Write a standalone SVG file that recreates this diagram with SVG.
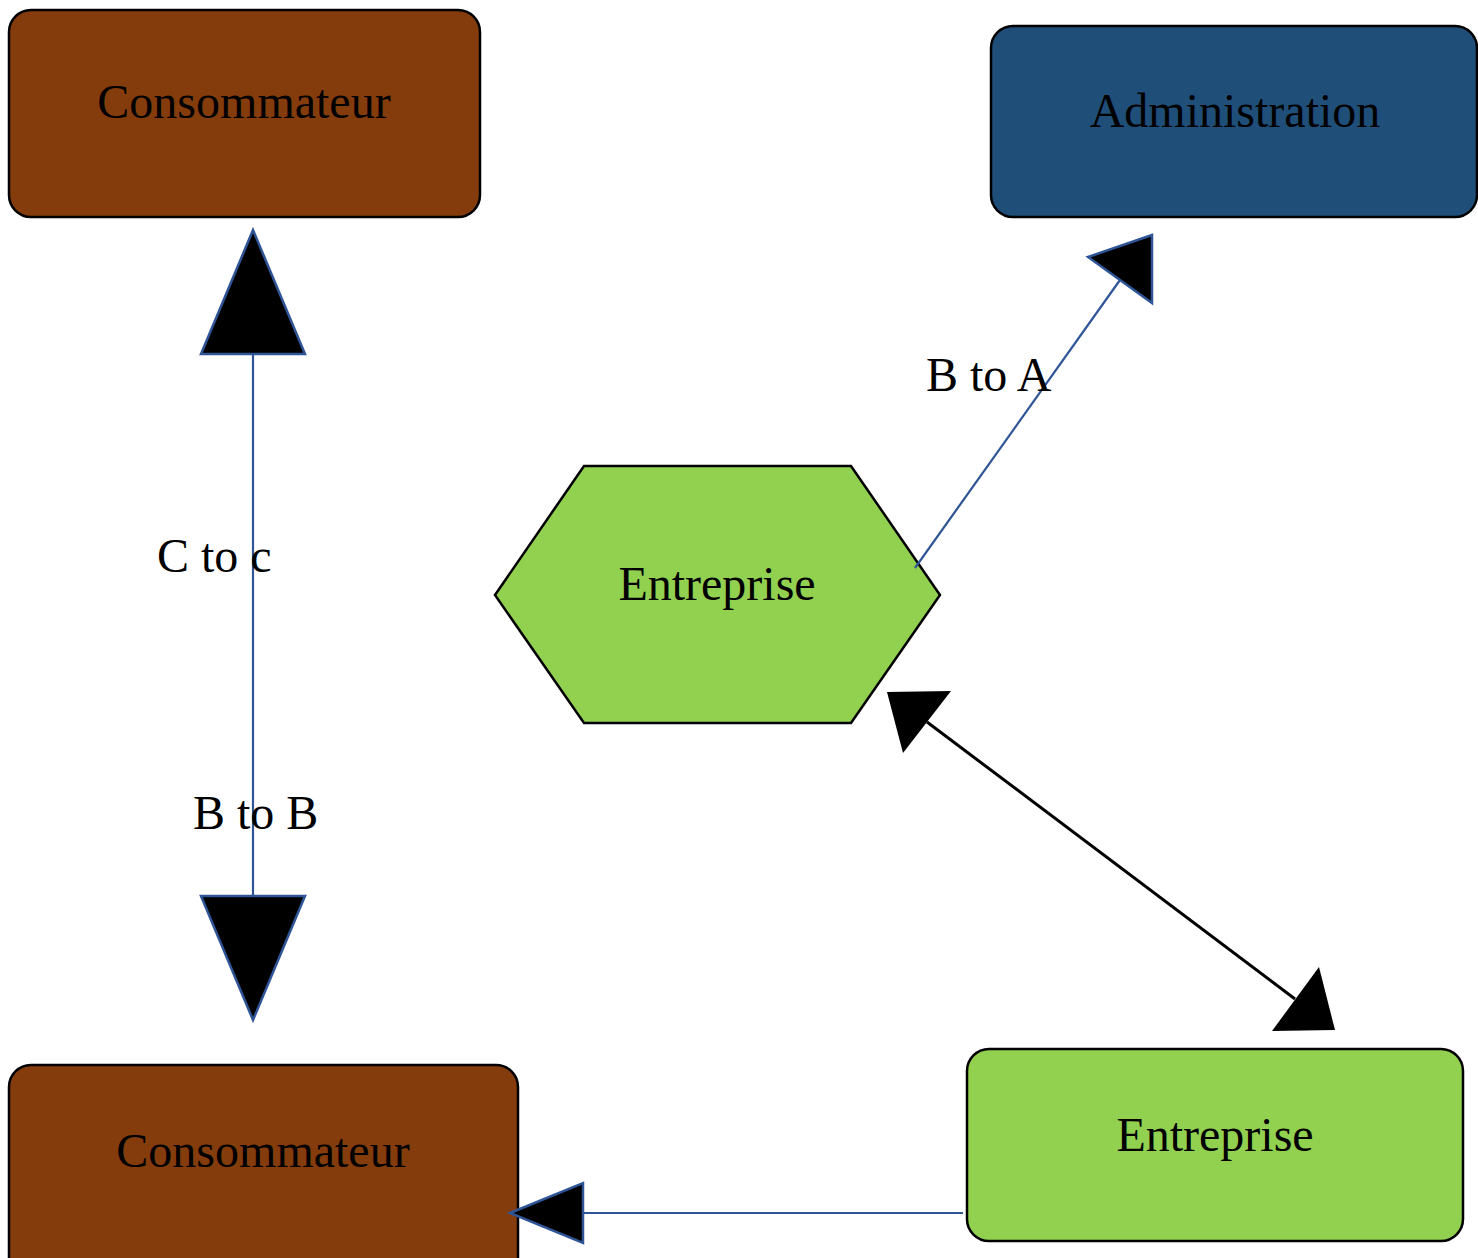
<svg xmlns="http://www.w3.org/2000/svg" width="1478" height="1258" viewBox="0 0 1478 1258">
<style>
.node{stroke:#000;stroke-width:2.5}
.brown{fill:#843C0C}
.blue{fill:#1F4E79}
.green{fill:#92D050}
.t{font-family:"Liberation Serif","Times New Roman",serif;font-size:48px;fill:#000;text-anchor:middle}
.lbl{font-family:"Liberation Serif","Times New Roman",serif;font-size:48px;fill:#000}
.bl{stroke:#2F5597;stroke-width:2.2;fill:none}
.bk{stroke:#000;stroke-width:3;fill:none}
.head{fill:#000;stroke:#2F5597;stroke-width:2.5;stroke-linejoin:miter}
.headk{fill:#000;stroke:none}
</style>
<rect width="1478" height="1258" fill="#fff"/>
<g id="consommateur-top">
<rect class="node brown" x="9" y="10" width="471" height="207" rx="22"/>
<text class="t" x="244" y="118">Consommateur</text>
</g>
<g id="administration">
<rect class="node blue" x="991" y="26" width="486" height="191" rx="22"/>
<text class="t" x="1235" y="127">Administration</text>
</g>
<g id="entreprise-hex">
<polygon class="node green" points="584,466 851,466 940,595 851,723 584,723 495,595"/>
<text class="t" x="717" y="600">Entreprise</text>
</g>
<g id="consommateur-bottom">
<rect class="node brown" x="9" y="1065" width="509" height="215" rx="22"/>
<text class="t" x="263" y="1167">Consommateur</text>
</g>
<g id="entreprise-box">
<rect class="node green" x="967" y="1049" width="496" height="192" rx="22"/>
<text class="t" x="1215" y="1151">Entreprise</text>
</g>
<g id="connectors">
<line class="bl" x1="253" y1="354" x2="253" y2="896"/>
<polygon class="head" points="253,230 201,354 305,354"/>
<polygon class="head" points="253,1020 201,896 305,896"/>
<line class="bl" x1="915" y1="568" x2="1120" y2="280"/>
<polygon class="head" points="1152,235 1088,257 1152,303"/>
<line class="bk" x1="927" y1="722" x2="1295" y2="999"/>
<polygon class="headk" points="887,692 951,691 903,753"/>
<polygon class="headk" points="1335,1030 1319,967 1272,1031"/>
<line class="bl" x1="963" y1="1213" x2="583" y2="1213"/>
<polygon class="head" points="510,1213 583,1183 583,1243"/>
<text class="lbl" x="157" y="572">C to c</text>
<text class="lbl" x="193" y="829">B to B</text>
<text class="lbl" x="926" y="391">B to A</text>
</g>
</svg>
